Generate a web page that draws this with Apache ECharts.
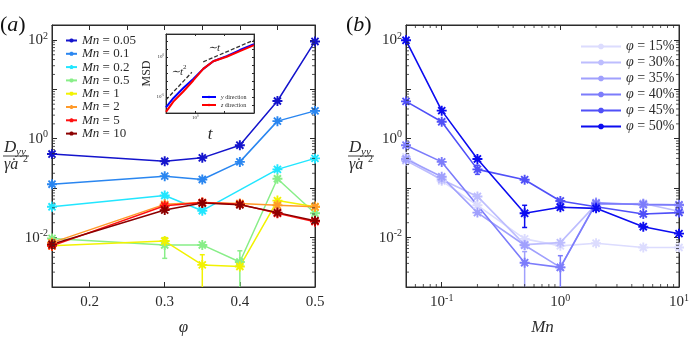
<!DOCTYPE html>
<html>
<head>
<meta charset="utf-8">
<script src="https://cdn.jsdelivr.net/npm/echarts@6/dist/echarts.min.js"></script>
<style>
  html, body { margin: 0; padding: 0; background: #fff; }
  #main { width: 692px; height: 341px; }
</style>
</head>
<body>
<div id="main"></div>
<script>
// panel (a): D_yy vs phi, one line per Mn
var phiA = [0.15, 0.3, 0.35, 0.4, 0.45, 0.5]
var mnLabels = ['0.05', '0.1', '0.2', '0.5', '1', '2', '5', '10']
var mn005 = [0.49, 0.35, 0.41, 0.74, 5.8, 93]
var mn01 = [0.12, 0.175, 0.15, 0.34, 2.27, 3.66]
var mn02 = [0.042, 0.071, 0.035, null, 0.24, 0.40]
var mn05 = [0.0096, 0.0071, 0.0071, 0.0032, 0.155, 0.031]
var mn1 = [0.0068, 0.0085, 0.0028, 0.0026, 0.056, 0.042]
var mn2 = [0.0079, 0.047, 0.051, 0.049, 0.045, 0.042]
var mn5 = [0.0068, 0.044, 0.051, 0.047, 0.031, 0.021]
var mn10 = [0.0073, 0.036, 0.050, 0.046, 0.032, 0.022]
// error bars [x, low, high]
var errGreenA = [[0.3, 0.0038, 0.0100], [0.4, 0.0005, 0.0054]]
var errYellowA = [[0.35, 0.0005, 0.0045], [0.3, 0.0072, 0.0098]]

// panel (b): D_yy vs Mn, one line per phi
var mnB = [0.05, 0.1, 0.2, 0.5, 1, 2, 5, 10]
var phiLabels = ['15%', '30%', '35%', '40%', '45%', '50%']
var phi15 = [0.43, 0.14, 0.045, 0.0094, 0.0068, 0.0077, 0.0063, 0.0063]
var phi30 = [0.36, 0.15, 0.068, 0.0072, 0.0079, 0.047, 0.049, 0.034]
var phi35 = [0.39, 0.17, 0.032, 0.007, 0.0025, 0.051, 0.046, 0.045]
var phi40 = [0.74, 0.34, null, 0.0031, 0.0025, 0.049, 0.047, 0.046]
var phi45 = [5.7, 2.2, 0.24, 0.148, 0.055, 0.042, 0.030, 0.032]
var phi50 = [98, 3.7, 0.39, 0.031, 0.041, 0.039, 0.0166, 0.012]
var err50 = [[0.5, 0.016, 0.045]]
var err45 = [[0.2, 0.19, 0.29]]
var err35 = [[0.5, 0.0005, 0.0052]]
var err40 = [[1, 0.0005, 0.0043]]

// inset: MSD vs t
var tIn = [0.1, 0.178, 0.39, 0.85, 1.86, 4.1, 11.7, 33, 100]
var msdY = [5.2e-7, 7.2e-6, 1.35e-4, 1.9e-3, 0.034, 0.31, 1.35, 7.8, 41]
var msdZ = [1.4e-7, 2.7e-6, 5e-5, 1.2e-3, 0.034, 0.31, 1.12, 5.8, 33]
var guideT2 = [[0.1, 4.5e-6], [0.76, 0.0126]]
var guideT1 = [[1.86, 0.26], [100, 140]]

var FONT = 'Liberation Serif'
var INK = '#2b2b2b'
var mnColors = ['#1414cc', '#2a86f0', '#22e6ff', '#88ee88', '#f2f200', '#ff9a2a', '#ff1010', '#8c0000']
var phiColors = ['#dcdcfe', '#bdbdfe', '#a0a0fd', '#7c7cfb', '#5050f8', '#0c0cf0']
var STAR = 'path://M10 0L10 20M0 10L20 10M2.93 2.93L17.07 17.07M2.93 17.07L17.07 2.93'

function zip(xs, ys) {
  return xs.map(function (x, i) { return [x, ys[i]] })
}

function powRich(size) {
  var sup = Math.round(size * 0.66)
  return {
    b: { fontFamily: FONT, fontSize: size, color: INK, lineHeight: Math.round(size * 1.2) },
    s: { fontFamily: FONT, fontSize: sup, color: INK, verticalAlign: 'top', lineHeight: Math.round(size * 0.6) }
  }
}

// only label exact powers of ten whose exponent is in the list
function powLabel(list) {
  return function (v) {
    var l = Math.log10(v)
    var e = Math.round(l)
    if (Math.abs(l - e) > 1e-6 || list.indexOf(e) < 0) return ''
    return '{b|10}{s|' + e + '}'
  }
}

function axisPair(grid, pos, type, min, max, label, extra) {
  var base = {
    gridIndex: grid, type: type, min: min, max: max,
    splitLine: { show: false },
    axisLine: { lineStyle: { color: INK, width: 1 } },
    axisTick: { inside: true, length: grid === 2 ? 2 : 5, lineStyle: { color: INK } }
  }
  if (type === 'log') base.logBase = 10
  var main = Object.assign({}, base, { position: pos, axisLabel: label }, extra || {})
  var mirror = Object.assign({}, base, { position: pos === 'bottom' ? 'top' : 'right', axisLabel: { show: false } })
  return [main, mirror]
}

var xAxes = [].concat(
  axisPair(0, 'bottom', 'value', 0.15, 0.5, {
    margin: 8, fontFamily: FONT, fontSize: 15, color: INK,
    formatter: function (v) { return Math.abs(v * 10 - Math.round(v * 10)) < 1e-6 ? v.toFixed(1) : '' }
  }, { splitNumber: 4, name: 'φ', nameLocation: 'middle', nameGap: 32,
       nameTextStyle: { fontFamily: FONT, fontSize: 17, fontStyle: 'italic', color: INK } }),
  axisPair(1, 'bottom', 'log', 0.05, 10, {
    margin: 6, formatter: powLabel([-1, 0, 1]), rich: powRich(15)
  }, { name: 'Mn', nameLocation: 'middle', nameGap: 32,
       nameTextStyle: { fontFamily: FONT, fontSize: 17, fontStyle: 'italic', color: INK } }),
  axisPair(2, 'bottom', 'log', 0.1, 100, {
    margin: 2, formatter: powLabel([0]), rich: powRich(5)
  }, { name: 't', nameLocation: 'middle', nameGap: 13,
       nameTextStyle: { fontFamily: FONT, fontSize: 17, fontStyle: 'italic', color: INK } })
)
var yAxes = [].concat(
  axisPair(0, 'left', 'log', 0.001, 200, { margin: 4, formatter: powLabel([-2, 0, 2]), rich: powRich(15) }),
  axisPair(1, 'left', 'log', 0.001, 200, { margin: 4, formatter: powLabel([-2, 0, 2]), rich: powRich(15) }),
  axisPair(2, 'left', 'log', 1e-7, 800, { margin: 2, formatter: powLabel([-5, 0]), rich: powRich(5) },
    { name: 'MSD', nameLocation: 'middle', nameGap: 12, nameRotate: 90,
      nameTextStyle: { fontFamily: FONT, fontSize: 12, color: INK } })
)

var series = []
var mnData = [mn005, mn01, mn02, mn05, mn1, mn2, mn5, mn10]
mnData.forEach(function (arr, i) {
  series.push({
    name: 'Mn = ' + mnLabels[i], type: 'line', xAxisIndex: 0, yAxisIndex: 0,
    data: zip(phiA, arr), connectNulls: true,
    symbol: STAR, symbolSize: 10,
    lineStyle: { color: mnColors[i], width: 1.5 },
    itemStyle: { color: mnColors[i], borderColor: mnColors[i], borderWidth: 1.9 }
  })
})
var phiData = [phi15, phi30, phi35, phi40, phi45, phi50]
phiData.forEach(function (arr, i) {
  series.push({
    name: 'φ = ' + phiLabels[i], type: 'line', xAxisIndex: 2, yAxisIndex: 2,
    data: zip(mnB, arr), connectNulls: true,
    symbol: STAR, symbolSize: 10,
    lineStyle: { color: phiColors[i], width: 1.6 },
    itemStyle: { color: phiColors[i], borderColor: phiColors[i], borderWidth: 1.9 }
  })
})

function errSeries(data, color, xi, yi) {
  return {
    type: 'custom', xAxisIndex: xi, yAxisIndex: yi, clip: true, silent: true,
    data: data,
    renderItem: function (params, api) {
      var top = api.coord([api.value(0), api.value(2)])
      var bot = api.coord([api.value(0), api.value(1)])
      var st = { stroke: color, lineWidth: 1.5 }
      return {
        type: 'group',
        children: [
          { type: 'line', shape: { x1: top[0], y1: top[1], x2: bot[0], y2: bot[1] }, style: st },
          { type: 'line', shape: { x1: top[0] - 2.5, y1: top[1], x2: top[0] + 2.5, y2: top[1] }, style: st },
          { type: 'line', shape: { x1: bot[0] - 2.5, y1: bot[1], x2: bot[0] + 2.5, y2: bot[1] }, style: st }
        ]
      }
    }
  }
}
series.push(errSeries(errGreenA, mnColors[3], 0, 0))
series.push(errSeries(errYellowA, mnColors[4], 0, 0))
series.push(errSeries(err50, phiColors[5], 2, 2))
series.push(errSeries(err45, phiColors[4], 2, 2))
series.push(errSeries(err35, phiColors[2], 2, 2))
series.push(errSeries(err40, phiColors[3], 2, 2))

// log minor ticks (2..9 per decade) on the box edges
function minorTicks(xi, yi, xr, yr, doX, doY, len) {
  return {
    type: 'custom', xAxisIndex: xi, yAxisIndex: yi, clip: false, silent: true, z: 5,
    data: [0],
    renderItem: function (params, api) {
      var cs = params.coordSys
      var kids = []
      var st = { stroke: INK, lineWidth: 0.8 }
      function each(r, fn) {
        for (var k = Math.floor(Math.log10(r[0])); k <= Math.ceil(Math.log10(r[1])); k++) {
          for (var m = 2; m <= 9; m++) {
            var v = m * Math.pow(10, k)
            if (v > r[0] && v < r[1]) fn(v)
          }
        }
      }
      if (doY) each(yr, function (v) {
        var y = api.coord([xr[0], v])[1]
        kids.push({ type: 'line', shape: { x1: cs.x, y1: y, x2: cs.x + len, y2: y }, style: st })
        kids.push({ type: 'line', shape: { x1: cs.x + cs.width - len, y1: y, x2: cs.x + cs.width, y2: y }, style: st })
      })
      if (doX) each(xr, function (v) {
        var x = api.coord([v, yr[0]])[0]
        kids.push({ type: 'line', shape: { x1: x, y1: cs.y + cs.height, x2: x, y2: cs.y + cs.height - len }, style: st })
        kids.push({ type: 'line', shape: { x1: x, y1: cs.y, x2: x, y2: cs.y + len }, style: st })
      })
      return { type: 'group', children: kids }
    }
  }
}
series.push(minorTicks(0, 0, [0.15, 0.5], [0.001, 200], false, true, 3))
series.push(minorTicks(2, 2, [0.05, 10], [0.001, 200], true, true, 3))

// inset
series.push({ name: 'y direction', type: 'line', xAxisIndex: 4, yAxisIndex: 4, data: zip(tIn, msdY),
  symbol: 'none', lineStyle: { color: '#0000ff', width: 2 }, itemStyle: { color: '#0000ff' } })
series.push({ name: 'z direction', type: 'line', xAxisIndex: 4, yAxisIndex: 4, data: zip(tIn, msdZ),
  symbol: 'none', lineStyle: { color: '#ff0000', width: 2 }, itemStyle: { color: '#ff0000' } })
series.push({ type: 'line', xAxisIndex: 4, yAxisIndex: 4, data: guideT2, symbol: 'none',
  lineStyle: { color: '#333', width: 1.3, type: [4, 2] } })
series.push({ type: 'line', xAxisIndex: 4, yAxisIndex: 4, data: guideT1, symbol: 'none',
  lineStyle: { color: '#333', width: 1.3, type: [4, 2] } })

function txt(x, y, s, size, italic) {
  return { type: 'text', x: x, y: y, style: { text: s, fontFamily: FONT, fontSize: size,
    fontStyle: italic ? 'italic' : 'normal', fill: INK, verticalAlign: 'middle' } }
}

// D_yy / (gamma-dot a^2) drawn as a stacked fraction
function fraction(x) {
  return {
    type: 'group', x: x, y: 0,
    children: [
      txt(2, 148, 'D', 17, true),
      txt(14, 152, 'yy', 11, true),
      { type: 'line', shape: { x1: 1, y1: 156, x2: 27, y2: 156 }, style: { stroke: INK, lineWidth: 0.9 } },
      txt(2, 165, 'γ̇a', 16, true),
      txt(21, 159, '2', 10, false)
    ]
  }
}

var option = {
  animation: false,
  backgroundColor: '#fff',
  grid: [
    { left: 52, top: 25, width: 263, height: 272, show: true, borderColor: INK, borderWidth: 1 },
    { left: 406, top: 25, width: 276, height: 273, show: true, borderColor: INK, borderWidth: 1 },
    { left: 166, top: 34, width: 88, height: 79, show: true, borderColor: '#555', borderWidth: 1, backgroundColor: '#fff' }
  ],
  xAxis: xAxes,
  yAxis: yAxes,
  legend: [
    {
      data: mnLabels.map(function (m) { return 'Mn = ' + m }),
      orient: 'vertical', left: 60, top: 29, itemWidth: 11, itemHeight: 5, itemGap: 0.3,
      formatter: function (n) { return '{i|Mn} = ' + n.slice(5) },
      textStyle: { fontFamily: FONT, fontSize: 13, color: INK, lineHeight: 13,
        rich: { i: { fontFamily: FONT, fontSize: 13, fontStyle: 'italic', color: INK } } }
    },
    {
      data: phiLabels.map(function (p) { return 'φ = ' + p }),
      orient: 'vertical', left: 575, top: 34, itemWidth: 40, itemHeight: 7, itemGap: 1,
      formatter: function (n) { return '{i|φ} = ' + n.slice(4) },
      textStyle: { fontFamily: FONT, fontSize: 14, color: INK, lineHeight: 15,
        rich: { i: { fontFamily: FONT, fontSize: 14, fontStyle: 'italic', color: INK } } }
    },
    {
      data: ['y direction', 'z direction'],
      orient: 'vertical', left: 196, top: 89, itemWidth: 14, itemHeight: 3, itemGap: 2,
      formatter: function (n) { return '{i|' + n[0] + '} ' + n.slice(2) },
      textStyle: { fontFamily: FONT, fontSize: 6, color: INK, lineHeight: 6,
        rich: { i: { fontFamily: FONT, fontSize: 6, fontStyle: 'italic', color: INK } } }
    }
  ],
  graphic: [
    { type: 'text', x: 0, y: 25, style: { text: '{p|(}{i|a}{p|)}', verticalAlign: 'middle',
      rich: { p: { fontFamily: FONT, fontSize: 22, fill: '#111' }, i: { fontFamily: FONT, fontSize: 22, fontStyle: 'italic', fill: '#111' } } } },
    { type: 'text', x: 346, y: 25, style: { text: '{p|(}{i|b}{p|)}', verticalAlign: 'middle',
      rich: { p: { fontFamily: FONT, fontSize: 22, fill: '#111' }, i: { fontFamily: FONT, fontSize: 22, fontStyle: 'italic', fill: '#111' } } } },
    fraction(2),
    fraction(347),
    txt(171, 72, '∼t', 11, true),
    txt(183, 67, '2', 7, false),
    txt(208, 48, '∼t', 11, true)
  ],
  series: series
}

var myChart = echarts.init(document.getElementById('main'))
myChart.setOption(option)
</script>
</body>
</html>
